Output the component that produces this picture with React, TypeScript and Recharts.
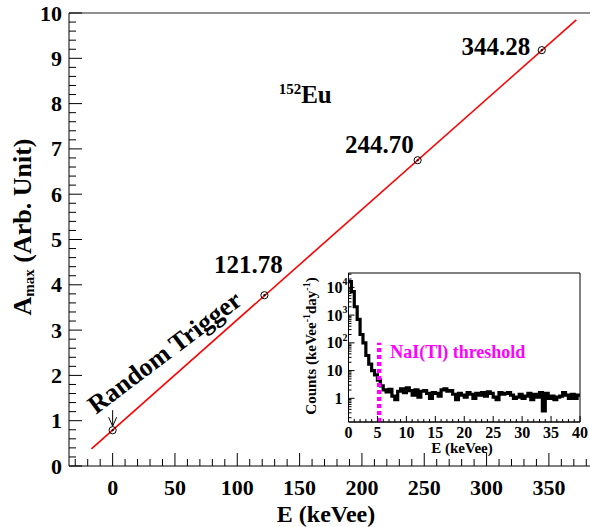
import React from "react";
import {
  ComposedChart,
  Line,
  Scatter,
  XAxis,
  YAxis,
  ReferenceLine,
  ReferenceDot,
  ReferenceArea,
} from "recharts";

const FONT = "'Liberation Serif', 'Times New Roman', serif";

// calibration points: gamma energy (keVee) vs pulse amplitude
const energies = [0, 121.78, 244.7, 344.28];
const amplitudes = [0.79, 3.77, 6.75, 9.18];
const peakLabels = ["", "121.78", "244.70", "344.28"];

// straight-line fit through the calibration points
const fitEnergies = [-17, 372];
const fitAmplitudes = [0.38, 9.85];

// inset: random-trigger spectrum, 0.5 keVee bins from 0 to 40 keVee
const binWidth = 0.5;
const binCounts = [
  16000, 7000, 2000, 700, 200, 100, 35, 17, 10, 7, 4.5, 2.8,
  2.0, 1.7, 2.1, 1.2, 0.9, 1.8, 2.2, 1.6, 2.4, 1.9, 1.3, 2.0,
  1.1, 1.8, 1.9, 1.5, 1.0, 1.6, 1.5, 1.2, 2.0, 2.2, 1.8, 1.9,
  1.4, 0.9, 1.5, 1.3, 1.1, 1.6, 1.4, 1.0, 1.5, 1.3, 1.6, 1.2,
  1.7, 1.5, 1.1, 0.9, 1.6, 1.4, 1.5, 1.6, 1.3, 1.0, 1.1, 1.4,
  1.0, 1.2, 1.5, 0.9, 1.4, 1.1, 1.6, 0.35, 1.5, 1.0, 1.2, 0.9,
  1.1, 1.2, 1.6, 1.3, 1.0, 1.4, 1.0, 1.3,
];
const thresholdE = 5.3;
const thresholdTop = 100;

// axis ticks
const mainXMajor = [0, 50, 100, 150, 200, 250, 300, 350];
const insetXMajor = [0, 5, 10, 15, 20, 25, 30, 35, 40];
const insetYMajor = [1, 10, 100, 1000, 10000];
const insetYLabels = ["1", "10", "10", "10", "10"];
const insetYExp = ["", "", "2", "3", "4"];

const pointTable = energies.map((e, i) => ({ e, a: amplitudes[i] }));
const fitTable = fitEnergies.map((e, i) => ({ e, a: fitAmplitudes[i] }));
const histTable = binCounts.map((c, i) => ({ e: i * binWidth, c }));
histTable.push({ e: binCounts.length * binWidth, c: binCounts[binCounts.length - 1] });

const mainXTicks: number[] = [];
for (let v = -30; v <= 390; v += 10) mainXTicks.push(v);
const mainYTicks: number[] = [];
for (let i = 0; i <= 50; i++) mainYTicks.push(i / 5);
const insetXTicks: number[] = [];
for (let v = 0; v <= 40; v++) insetXTicks.push(v);
const insetYTicks: number[] = [];
for (let d = 0.1; d <= 10000; d *= 10) {
  for (let m = 1; m <= 9; m++) {
    const v = Math.round(d * m * 1000) / 1000;
    if (v >= 0.14 && v <= 33000) insetYTicks.push(v);
  }
}

const INSET_Y_MIN = 0.14;
const INSET_Y_MAX = 33000;

function MainXTick(props: any) {
  const { x, y, payload } = props;
  const major = mainXMajor.includes(payload.value);
  return (
    <g>
      <line x1={x} x2={x} y1={y} y2={y - (major ? 13 : 7)} stroke="#000" />
      {major && (
        <text x={x} y={y + 29} textAnchor="middle" fontFamily={FONT} fontWeight="bold" fontSize={22} fill="#000">
          {payload.value}
        </text>
      )}
    </g>
  );
}

function MainYTick(props: any) {
  const { x, y, payload } = props;
  const major = Math.abs(payload.value - Math.round(payload.value)) < 1e-6;
  return (
    <g>
      <line x1={x} x2={x + (major ? 13 : 7)} y1={y} y2={y} stroke="#000" />
      {major && (
        <text x={x - 7} y={y} dy={7.5} textAnchor="end" fontFamily={FONT} fontWeight="bold" fontSize={22} fill="#000">
          {Math.round(payload.value)}
        </text>
      )}
    </g>
  );
}

function InsetXTick(props: any) {
  const { x, y, payload } = props;
  const major = insetXMajor.includes(payload.value);
  return (
    <g>
      <line x1={x} x2={x} y1={y} y2={y - (major ? 6 : 3)} stroke="#000" />
      {major && (
        <text x={x} y={y + 16} textAnchor="middle" fontFamily={FONT} fontWeight="bold" fontSize={16} fill="#000">
          {payload.value}
        </text>
      )}
    </g>
  );
}

function InsetYTick(props: any) {
  const { x, y, payload } = props;
  const idx = insetYMajor.indexOf(payload.value);
  const major = idx >= 0;
  return (
    <g>
      <line x1={x} x2={x + (major ? 6 : 3)} y1={y} y2={y} stroke="#000" />
      {major && (
        <text x={x - 6} y={y + 5.5} textAnchor="end" fontFamily={FONT} fontWeight="bold" fontSize={16} fill="#000">
          {insetYLabels[idx]}
        </text>
      )}
      {major && insetYExp[idx] && (
        <text x={x - 6} y={y - 2} textAnchor="start" fontFamily={FONT} fontWeight="bold" fontSize={10} fill="#000">
          {insetYExp[idx]}
        </text>
      )}
    </g>
  );
}

function PointMarker(props: any) {
  const { cx, cy } = props;
  return (
    <g>
      <circle cx={cx} cy={cy} r={3.6} fill="none" stroke="#000" strokeWidth={1} />
      <circle cx={cx} cy={cy} r={1.1} fill="#000" />
    </g>
  );
}

function textShape(label: string, size: number) {
  return (props: any) => (
    <text x={props.cx} y={props.cy} textAnchor="middle" fontFamily={FONT} fontWeight="bold" fontSize={size} fill="#000">
      {label}
    </text>
  );
}

export default function App() {
  return (
    <div style={{ position: "fixed", left: 0, top: 0, width: 590, height: 527, overflow: "hidden", background: "#fff" }}>
      <ComposedChart width={610} height={527} margin={{ top: 13, right: 10, bottom: 0, left: 9 }}>
        <XAxis
          type="number"
          dataKey="e"
          domain={[-35, 391]}
          ticks={mainXTicks}
          interval={0}
          tickSize={0}
          tickMargin={0}
          height={61}
          tick={MainXTick}
          axisLine={{ stroke: "#000" }}
          allowDataOverflow
        />
        <YAxis
          type="number"
          domain={[0, 10]}
          ticks={mainYTicks}
          interval={0}
          tickSize={0}
          tickMargin={0}
          width={60}
          tick={MainYTick}
          axisLine={{ stroke: "#000" }}
          allowDataOverflow
        />
        <ReferenceLine y={10} stroke="#222" />
        <Line
          data={fitTable}
          dataKey="a"
          stroke="#ff0000"
          strokeWidth={1.6}
          dot={false}
          isAnimationActive={false}
        />
        <Scatter data={pointTable} dataKey="a" shape={PointMarker} isAnimationActive={false} />
        {/* arrow pointing at the random-trigger point */}
        <ReferenceDot
          x={energies[0]}
          y={amplitudes[0]}
          shape={(p: any) => (
            <g stroke="#000" strokeWidth={1} fill="none">
              <line x1={p.cx} x2={p.cx} y1={p.cy - 20} y2={p.cy - 4} />
              <polyline points={`${p.cx - 4},${p.cy - 13} ${p.cx},${p.cy - 4} ${p.cx + 4},${p.cy - 13}`} />
            </g>
          )}
        />
        <ReferenceDot
          x={42}
          y={2.5}
          shape={(p: any) => (
            <text
              x={p.cx}
              y={p.cy}
              dy={8}
              textAnchor="middle"
              fontFamily={FONT}
              fontWeight="bold"
              fontSize={26}
              fill="#000"
              transform={`rotate(-37 ${p.cx} ${p.cy})`}
            >
              Random Trigger
            </text>
          )}
        />
        <ReferenceDot x={109} y={4.27} shape={textShape(peakLabels[1], 25)} />
        <ReferenceDot x={214} y={6.9} shape={textShape(peakLabels[2], 25)} />
        <ReferenceDot x={307.5} y={9.08} shape={textShape(peakLabels[3], 25)} />
        <ReferenceDot
          x={154.5}
          y={8.02}
          shape={(p: any) => (
            <text x={p.cx} y={p.cy} textAnchor="middle" fontFamily={FONT} fontWeight="bold" fill="#000">
              <tspan fontSize={15} dy={-9}>152</tspan>
              <tspan fontSize={25} dy={9}>Eu</tspan>
            </text>
          )}
        />
      </ComposedChart>

      <div style={{ position: "absolute", left: 290, top: 265 }}>
        <ComposedChart width={300} height={200} data={histTable} margin={{ top: 8, right: 10, bottom: 0, left: 0 }}>
          <XAxis
            type="number"
            dataKey="e"
            domain={[0, 40]}
            ticks={insetXTicks}
            interval={0}
            tickSize={0}
            tickMargin={0}
            height={43}
            tick={InsetXTick}
            axisLine={{ stroke: "#000" }}
            allowDataOverflow
          />
          <YAxis
            type="number"
            scale="log"
            domain={[INSET_Y_MIN, INSET_Y_MAX]}
            ticks={insetYTicks}
            interval={0}
            tickSize={0}
            tickMargin={0}
            width={58.5}
            tick={InsetYTick}
            axisLine={{ stroke: "#000" }}
            allowDataOverflow
          />
          <ReferenceArea
            x1={0}
            x2={40}
            y1={INSET_Y_MIN}
            y2={INSET_Y_MAX}
            fill="none"
            stroke="#000"
            strokeWidth={1}
          />
          <Line
            type="stepAfter"
            dataKey="c"
            stroke="#000"
            strokeWidth={3.2}
            strokeLinejoin="miter"
            dot={false}
            isAnimationActive={false}
          />
          <ReferenceLine
            segment={[
              { x: thresholdE, y: INSET_Y_MIN },
              { x: thresholdE, y: thresholdTop },
            ]}
            stroke="#ff00ff"
            strokeWidth={4.5}
            strokeDasharray="4 3"
          />
          <ReferenceDot
            x={7.2}
            y={28.6}
            shape={(p: any) => (
              <text x={p.cx} y={p.cy} textAnchor="start" fontFamily={FONT} fontWeight="bold" fontSize={18} fill="#ff00ff">
                NaI(Tl) threshold
              </text>
            )}
          />
        </ComposedChart>
      </div>

      <svg width={590} height={527} style={{ position: "absolute", left: 0, top: 0, pointerEvents: "none" }}>
        <text x={326} y={522} textAnchor="middle" fontFamily={FONT} fontWeight="bold" fontSize={24} fill="#000">
          E (keVee)
        </text>
        <text
          x={31}
          y={227}
          textAnchor="middle"
          fontFamily={FONT}
          fontWeight="bold"
          fontSize={26}
          fill="#000"
          transform="rotate(-90 31 227)"
        >
          A<tspan fontSize={15} dy={3}>max</tspan>
          <tspan dy={-3}> (Arb. Unit)</tspan>
        </text>
        <text x={462} y={453} textAnchor="middle" fontFamily={FONT} fontWeight="bold" fontSize={15} fill="#000">
          E (keVee)
        </text>
        <text
          x={316}
          y={346}
          textAnchor="middle"
          fontFamily={FONT}
          fontWeight="bold"
          fontSize={15}
          fill="#000"
          transform="rotate(-90 316 346)"
        >
          Counts (keVee<tspan fontSize={10} dy={-6}>-1</tspan>
          <tspan dy={6}>day</tspan>
          <tspan fontSize={10} dy={-6}>-1</tspan>
          <tspan dy={6}>)</tspan>
        </text>
      </svg>
    </div>
  );
}
